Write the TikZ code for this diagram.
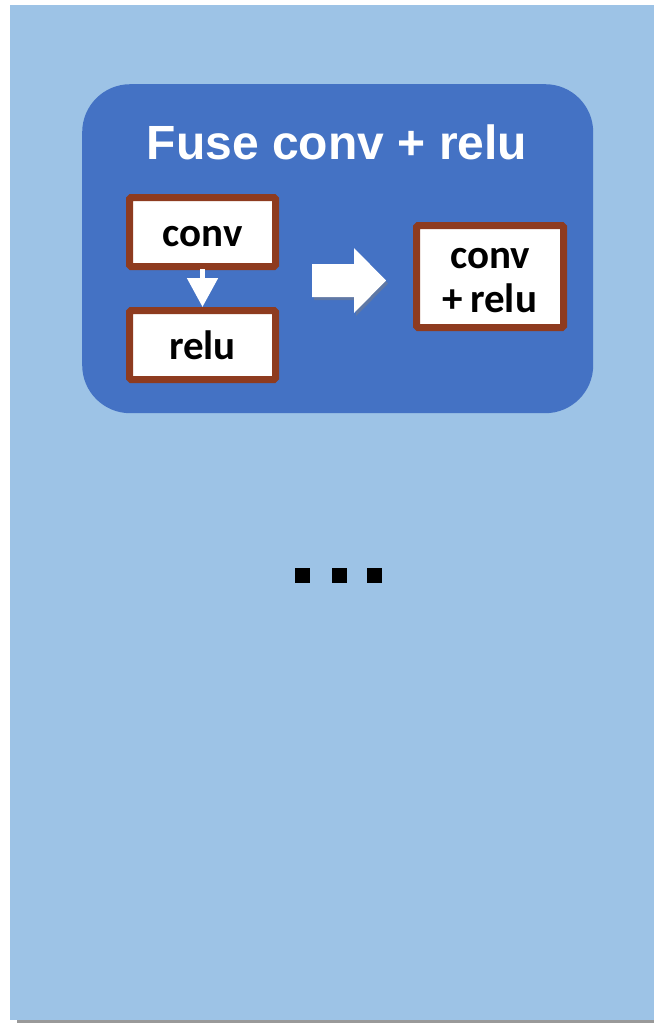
\documentclass[tikz,border=0pt]{standalone}
\usepackage{fontspec}
\setmainfont{Liberation Sans}
\newfontfamily\boxfont{Carlito}
\usetikzlibrary{shadows,arrows.meta}
\definecolor{panelblue}{HTML}{9DC3E6}
\definecolor{groupblue}{HTML}{4472C4}
\definecolor{opborder}{HTML}{8E3B1F}
\tikzset{
  opbox/.style={draw=opborder, line width=7pt, fill=white, rounded corners=1.5pt,
    font=\boxfont\bfseries\fontsize{41}{46}\selectfont, align=center, inner sep=0pt},
  oneline/.style={text height=28pt, text depth=0pt},
  dotsq/.style={fill=black, minimum size=15pt, inner sep=0pt},
}
\begin{document}
\begin{tikzpicture}[x=1pt,y=-1pt]
\useasboundingbox (0,0) rectangle (654,1023);
% page shadow and background panel
\fill[black!40] (17,1014) rectangle (654,1023);
\node[fill=panelblue, minimum width=644pt, minimum height=1015pt, inner sep=0pt, anchor=north west] (panel) at (10,5) {};
% fusion group
\node[fill=groupblue, rounded corners=48pt, minimum width=511pt, minimum height=329pt, inner sep=0pt, anchor=north west] (group) at (82,84) {};
\node[text=white, font=\bfseries\fontsize{48}{52}\selectfont] (title) at (337,142) {Fuse conv + relu};
% operators
\node[opbox, oneline, minimum width=146pt, minimum height=69pt] (conv) at (202.5,232) {conv};
\node[opbox, oneline, minimum width=146pt, minimum height=69pt] (relu) at (202.5,345) {relu};
\node[opbox, minimum width=147pt, minimum height=102pt] (fused) at (490,276.5) {\rule{0pt}{28pt}conv\\[-2pt]+\,relu};
% edge between operators
\draw[white, line width=5pt, -{Triangle[width=30pt,length=29pt]}] (conv.south) ++(0,-1) -- (relu.north);
% transformation arrow
\fill[white, drop shadow={shadow xshift=2pt, shadow yshift=-3pt, opacity=0.45}]
  (312,264) -- (354,264) -- (354,248) -- (386,280.5) -- (354,313) -- (354,297) -- (312,297) -- cycle;
% ellipsis
\node[dotsq] (d1) at (302.5,575.5) {};
\node[dotsq] (d2) at (339.5,575.5) {};
\node[dotsq] (d3) at (374.5,575.5) {};
\end{tikzpicture}
\end{document}
